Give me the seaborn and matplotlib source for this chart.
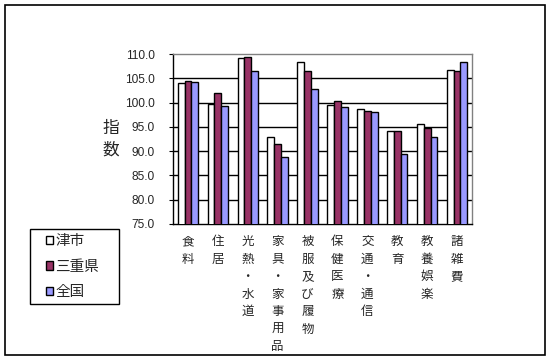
import pandas as pd
import matplotlib
matplotlib.use("Agg")
import matplotlib.pyplot as plt
import seaborn as sns
from matplotlib.patches import Rectangle

# data
categories = ["食料", "住居", "光熱・水道", "家具・家事用品", "被服及び履物",
              "保健医療", "交通・通信", "教育", "教養娯楽", "諸雑費"]
tsu = [104.0, 99.7, 109.1, 93.0, 108.3, 99.4, 98.6, 94.1, 95.5, 106.7]
mie = [104.4, 101.9, 109.3, 91.4, 106.4, 100.4, 98.3, 94.1, 94.8, 106.4]
zenkoku = [104.3, 99.2, 106.6, 88.7, 102.7, 99.0, 98.0, 89.5, 93.0, 108.3]
series = ["津市", "三重県", "全国"]
yticks = [75, 80, 85, 90, 95, 100, 105, 110]

df = pd.DataFrame({"cat": categories, "津市": tsu, "三重県": mie, "全国": zenkoku})
df = df.melt(id_vars="cat", var_name="series", value_name="val")

sns.set_style("white")
plt.rcParams['font.family'] = ['Noto Sans CJK JP', 'DejaVu Sans']

fig = plt.figure(figsize=(5.5, 3.59), dpi=100)
ax = fig.add_axes([173/550, 1-224/359, 299/550, 170/359])

palette = {"津市": "#FFFFFF", "三重県": "#993366", "全国": "#9999FF"}
sns.barplot(data=df, x="cat", y="val", hue="series", hue_order=series,
            palette=palette, width=0.68, edgecolor="black", linewidth=1,
            saturation=1, ax=ax, legend=False, zorder=3)

ax.set_ylim(75, 110)
ax.set_yticks(yticks)
ax.set_yticklabels([f"{v:.1f}" for v in yticks], fontsize=8.6, family=['Liberation Sans'])
for v in yticks[1:-1]:
    ax.axhline(v, color="black", lw=1, zorder=1)
ax.set_xlim(-0.5, len(categories) - 0.5)
ax.set_xticks(range(len(categories)))
ax.set_xticklabels(["\n".join(c) for c in categories], fontsize=9,
                   linespacing=1.45, va="top")
ax.tick_params(axis="x", length=0, pad=8)
ax.set_xticks([i + 0.5 for i in range(len(categories) - 1)], minor=True)
ax.tick_params(axis="x", which="minor", direction="in", length=4, color="black")
ax.tick_params(axis="y", direction="out", length=3, color="black", left=True, pad=10)
ax.set_xlabel("")
ax.set_ylabel("")
for s in ["left", "bottom"]:
    ax.spines[s].set_color("black")
    ax.spines[s].set_linewidth(1)
for s in ["top", "right"]:
    ax.spines[s].set_color("#808080")
    ax.spines[s].set_linewidth(1)

fig.text(111/550, 1-128/359, "指", fontsize=12, ha="center", va="center")
fig.text(111/550, 1-150/359, "数", fontsize=12, ha="center", va="center")

# legend (frame drawn separately)
handles = [Rectangle((0, 0), 1, 1, facecolor=palette[s], edgecolor="black", lw=1)
           for s in series]
leg = fig.legend(handles, series, loc="upper left",
                 bbox_to_anchor=(46/550, 1-234/359), fontsize=10.5,
                 frameon=False,
                 handlelength=0.5, handleheight=0.5, handletextpad=0.15,
                 labelspacing=0.8, borderpad=0, borderaxespad=0)
fig.patches.append(Rectangle((30/550, 1-304/359), 89/550, 75/359,
                             transform=fig.transFigure, fill=False,
                             edgecolor="black", lw=1))

fig.patches.append(Rectangle((5/550, 1-355/359), 540/550, 350/359,
                             transform=fig.transFigure, fill=False,
                             edgecolor="black", lw=1.2))

fig.savefig("out.png", dpi=100)
